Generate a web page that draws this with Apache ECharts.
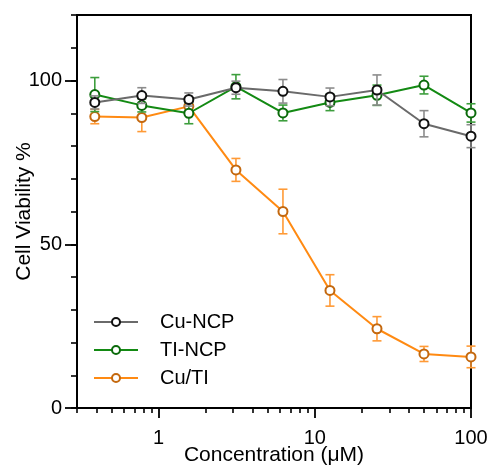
<!DOCTYPE html>
<html>
<head>
<meta charset="utf-8">
<script src="https://cdn.jsdelivr.net/npm/echarts@6/dist/echarts.min.js"></script>
<style>
  html, body { margin: 0; padding: 0; background: #fff; }
  #chart { width: 490px; height: 465px; }
</style>
</head>
<body>
<div id="chart"></div>
<script>
// Concentrations (µM), two-fold dilution series
const concentrations = [0.39, 0.78, 1.56, 3.125, 6.25, 12.5, 25, 50, 100];

// Cell viability (%) and error (±) per formulation
const cuNcp    = [93.3, 95.4, 94.2, 97.8, 96.7, 95.0, 97.1, 86.8, 83.0];
const cuNcpErr = [2.0, 2.4, 2.0, 2.0, 3.6, 2.7, 4.6, 4.0, 3.5];
const tiNcp    = [95.7, 92.4, 90.0, 98.1, 90.1, 93.3, 95.5, 98.6, 90.1];
const tiNcpErr = [5.2, 2.0, 3.2, 3.7, 2.4, 2.5, 3.1, 2.7, 2.8];
const cuTi     = [89.0, 88.7, 92.1, 72.7, 60.0, 35.9, 24.2, 16.5, 15.6];
const cuTiErr  = [2.2, 4.3, 1.5, 3.5, 6.8, 4.8, 3.7, 2.3, 3.3];

const seriesNames = ['Cu-NCP', 'TI-NCP', 'Cu/TI'];

// Axis ticks
const xMajorTicks = [1, 10, 100];
const xMinorTicks = [0.3, 0.4, 0.5, 0.6, 0.7, 0.8, 0.9, 2, 3, 4, 5, 6, 7, 8, 9, 20, 30, 40, 50, 60, 70, 80, 90];
const yMajorTicks = [0, 50, 100];

const FONT = '"Liberation Sans", Arial, sans-serif';

const styles = [
  { line: '#6a6a6a', marker: '#111111', err: '#8c8c8c' },
  { line: '#138a13', marker: '#0b6a0b', err: '#3d9e3d' },
  { line: '#ff8a12', marker: '#c4680e', err: '#ff9a36' }
];
const values = [cuNcp, tiNcp, cuTi];
const errors = [cuNcpErr, tiNcpErr, cuTiErr];
const zOrder = [5, 4, 3];

function pairs(vals) {
  return concentrations.map((c, i) => [c, vals[i]]);
}
function errData(vals, errs) {
  return concentrations.map((c, i) => [c, vals[i] - errs[i], vals[i] + errs[i]]);
}

function errorBarRenderer(color) {
  return function (params, api) {
    const lo = api.coord([api.value(0), api.value(1)]);
    const hi = api.coord([api.value(0), api.value(2)]);
    const half = 4.5;
    const style = { stroke: color, lineWidth: 1.6, fill: null };
    return {
      type: 'group',
      children: [
        { type: 'line', shape: { x1: lo[0], y1: lo[1], x2: hi[0], y2: hi[1] }, style },
        { type: 'line', shape: { x1: lo[0] - half, y1: lo[1], x2: lo[0] + half, y2: lo[1] }, style },
        { type: 'line', shape: { x1: hi[0] - half, y1: hi[1], x2: hi[0] + half, y2: hi[1] }, style }
      ]
    };
  };
}

const series = [];
seriesNames.forEach((name, k) => {
  series.push({
    name: name + ' err',
    type: 'custom',
    xAxisIndex: 0,
    yAxisIndex: 0,
    data: errData(values[k], errors[k]),
    renderItem: errorBarRenderer(styles[k].err),
    z: zOrder[k],
    clip: false,
    silent: true
  });
  series.push({
    name: name,
    type: 'line',
    xAxisIndex: 0,
    yAxisIndex: 0,
    data: pairs(values[k]),
    symbol: 'emptyCircle',
    symbolSize: 9,
    showAllSymbol: true,
    clip: false,
    z: zOrder[k] + 0.5,
    lineStyle: { color: styles[k].line, width: 2 },
    itemStyle: { color: styles[k].marker, borderWidth: 2 },
    emphasis: { disabled: true }
  });
});

const chart = echarts.init(document.getElementById('chart'), null, { renderer: 'canvas' });
chart.setOption({
  animation: false,
  backgroundColor: '#fff',
  grid: {
    left: 77, right: 19, top: 15, bottom: 57,
    outerBoundsMode: 'none',
    containLabel: false,
    show: true, borderColor: '#000', borderWidth: 2, backgroundColor: 'transparent'
  },
  legend: {
    data: seriesNames,
    orient: 'vertical',
    left: 88,
    top: 307,
    itemWidth: 44,
    itemHeight: 10,
    itemGap: 8,
    textStyle: { fontFamily: FONT, fontSize: 20, color: '#000', padding: [0, 0, 0, 17] },
    selectedMode: false
  },
  xAxis: [
    {
      type: 'log', logBase: 10, min: 0.3, max: 100, position: 'bottom',
      name: 'Concentration (\u03bcM)',
      nameLocation: 'middle',
      nameGap: 37,
      nameMoveOverlap: false,
      nameTextStyle: { fontFamily: FONT, fontSize: 21, color: '#000' },
      axisLine: { show: true, lineStyle: { color: '#000', width: 2 } },
      axisTick: { show: true, length: 5, lineStyle: { color: '#000', width: 1.6 }, customValues: xMinorTicks },
      axisLabel: { show: false },
      splitLine: { show: false }
    },
    {
      type: 'log', logBase: 10, min: 0.3, max: 100, position: 'bottom',
      axisLine: { show: false },
      axisTick: { show: true, length: 10, lineStyle: { color: '#000', width: 1.8 }, customValues: xMajorTicks },
      axisLabel: {
        show: true, customValues: xMajorTicks, margin: 20,
        fontFamily: FONT, fontSize: 20, color: '#000',
        formatter: v => String(v)
      },
      splitLine: { show: false }
    }
  ],
  yAxis: [
    {
      type: 'value', min: 0, max: 120, interval: 10, position: 'left',
      name: 'Cell Viability %',
      nameLocation: 'middle',
      nameGap: 42,
      nameRotate: 90,
      nameMoveOverlap: false,
      nameTextStyle: { fontFamily: FONT, fontSize: 21, color: '#000' },
      axisLine: { show: true, lineStyle: { color: '#000', width: 2 } },
      axisTick: { show: true, length: 6, lineStyle: { color: '#000', width: 1.6 } },
      axisLabel: { show: false },
      splitLine: { show: false }
    },
    {
      type: 'value', min: 0, max: 120, position: 'left',
      axisLine: { show: false },
      axisTick: { show: true, length: 12, lineStyle: { color: '#000', width: 1.8 }, customValues: yMajorTicks },
      axisLabel: {
        show: true, customValues: yMajorTicks, margin: 15,
        fontFamily: FONT, fontSize: 20, color: '#000'
      },
      splitLine: { show: false }
    }
  ],
  series: series
});
</script>
</body>
</html>
